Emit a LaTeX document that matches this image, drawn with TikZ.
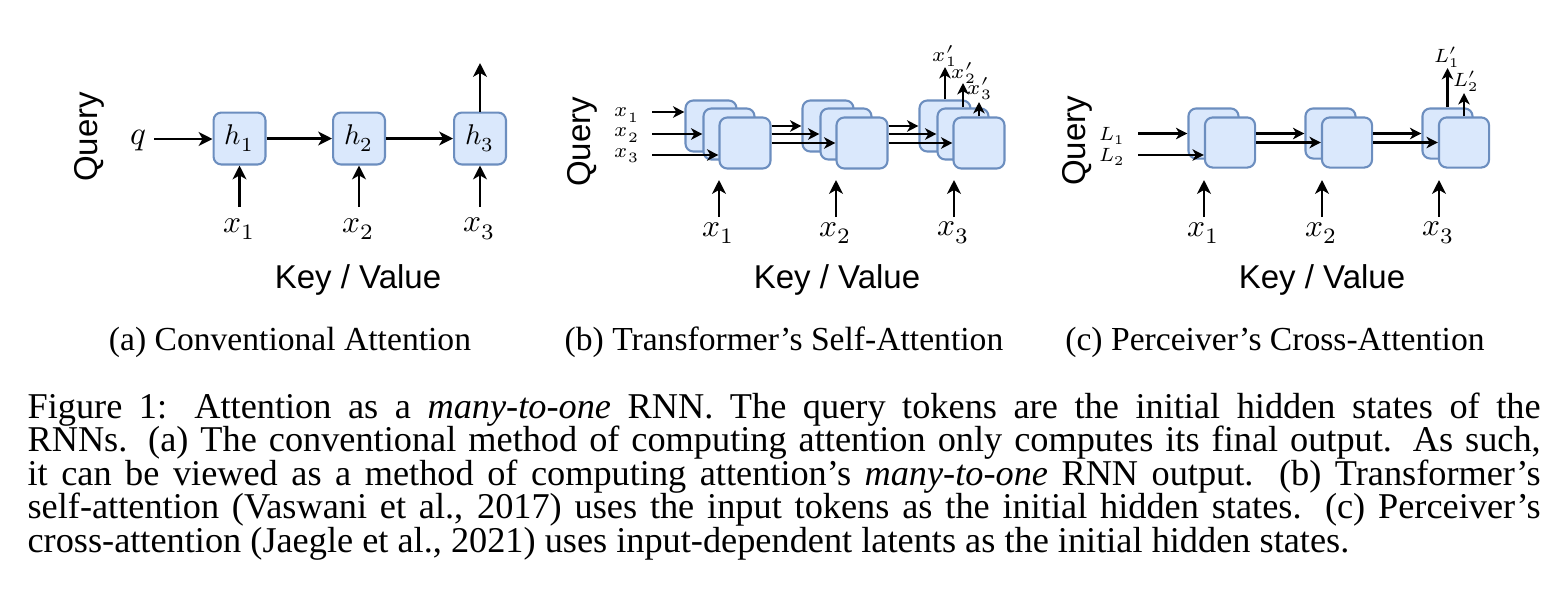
\documentclass[tikz,border=0pt]{standalone}
\usepackage{fontspec}
\usepackage{unicode-math}
\setmainfont{Liberation Serif}
\setsansfont{Liberation Sans}
\setmathfont{Latin Modern Math}
\usetikzlibrary{arrows.meta}
\definecolor{boxfill}{HTML}{DAE8FC}
\definecolor{boxdraw}{HTML}{6C8EBF}
\begin{document}
\begin{tikzpicture}[x=0.33333pt,y=-0.33333pt,
  cella/.style={draw=boxdraw, fill=boxfill, line width=0.7pt, rounded corners=2.6pt, minimum size=17.3pt, inner sep=0pt, font=\fontsize{9.5}{11}\selectfont},
  cellb/.style={draw=boxdraw, fill=boxfill, line width=0.7pt, rounded corners=2.6pt, minimum size=17pt, inner sep=0pt},
  cellc/.style={cellb, minimum size=16.7pt},
  arr/.style={line width=0.8pt, -{Stealth[length=4.6pt,width=4.6pt,inset=1.3pt]}},
  arrs/.style={line width=0.75pt, -{Stealth[length=3.8pt,width=3.8pt,inset=1.1pt]}},
  sanslab/.style={font=\sffamily\fontsize{11}{13}\selectfont, inner sep=0pt},
  qlab/.style={sanslab, rotate=90},
  mathl/.style={font=\fontsize{10.5}{12}\selectfont, inner sep=0pt},
  maths/.style={font=\fontsize{6.8}{8}\selectfont, inner sep=0pt},
  mathc/.style={font=\fontsize{6.4}{8}\selectfont, inner sep=0pt},
  subcap/.style={font=\fontsize{11.2}{13}\selectfont, inner sep=0pt, anchor=base},
]
\useasboundingbox (0,0) rectangle (1554,604);

% ---------------- (a) ----------------
\node[qlab] (qa) at (89,137) {Query};
\node[font=\fontsize{11}{12}\selectfont, inner sep=0pt] (q) at (138,140) {$q$};
\node[cella] (h1) at (239.5,138.5) {$h_1$};
\node[cella] (h2) at (359,138.5) {$h_2$};
\node[cella] (h3) at (480,138.5) {$h_3$};
\coordinate (qs) at (154,139);
\draw[arr] (qs) -- (qs -| h1.west);
\draw[arr] (h1) -- (h2);
\draw[arr] (h2) -- (h3);
\coordinate (ho) at (480,63);
\draw[arr] (h3.north) -- (ho);
\foreach \i/\x in {1/239.5,2/359,3/480}{
  \coordinate (as\i) at (\x,207);
  \node[mathl] (ax\i) at (\x,229) {$x_\i$};
}
\draw[arr] (as1) -- (h1.south);
\draw[arr] (as2) -- (h2.south);
\draw[arr] (as3) -- (h3.south);
\node[sanslab, anchor=base] (kva) at (358,288) {Key / Value};
\node[subcap] (capa) at (290,350) {(a) Conventional Attention};

% ---------------- (b) ----------------
\node[qlab] (qb) at (582,142) {Query};
\foreach \g/\dx in {1/0,2/117,3/234}{
  \node[cellb] (b\g1) at (711+\dx,126) {};
  \node[cellb] (b\g2) at (729+\dx,134) {};
  \node[cellb] (b\g3) at (745+\dx,143) {};
}
\node[maths] (bi1) at (627,115) {$x_1$};
\node[maths] (bi2) at (627,135) {$x_2$};
\node[maths] (bi3) at (627,156) {$x_3$};
\coordinate (bs1) at (652,112);
\coordinate (bs2) at (652,134);
\coordinate (bs3) at (652,155);
\draw[arrs] (bs1) -- (bs1 -| b11.west);
\draw[arrs] (bs2) -- (bs2 -| b12.west);
\draw[arrs] (bs3) -- (bs3 -| b13.west);
\draw[arrs] (b13.east |- b21.west) -- (b21.west);
\draw[arrs] (b13.east |- b22.west) -- (b22.west);
\draw[arrs] (b13.east) -- (b23.west);
\draw[arrs] (b23.east |- b31.west) -- (b31.west);
\draw[arrs] (b23.east |- b32.west) -- (b32.west);
\draw[arrs] (b23.east) -- (b33.west);
\coordinate (bo1) at (945,67);
\coordinate (bo2) at (963,83);
\coordinate (bo3) at (979,102);
\draw[arrs] (b31.north) -- (bo1);
\draw[arrs] (b32.north) -- (bo2);
\draw[arrs] (b33.north) -- (bo3);
\node[maths] (bl1) at (945,56) {$x'_1$};
\node[maths] (bl2) at (964,73) {$x'_2$};
\node[maths] (bl3) at (980,89) {$x'_3$};
\foreach \i/\x in {1/719,2/836,3/954}{
  \coordinate (bk\i) at (\x,217);
  \coordinate (bt\i) at (\x,180);
  \draw[arr] (bk\i) -- (bt\i);
  \node[mathl] (bx\i) at (\x,233) {$x_\i$};
}
\node[sanslab, anchor=base] (kvb) at (837,288) {Key / Value};
\node[subcap] (capb) at (784,350) {(b) Transformer’s Self-Attention};

% ---------------- (c) ----------------
\node[qlab] (qc) at (1077,141) {Query};
\foreach \g/\dx in {1/0,2/117,3/234}{
  \node[cellc] (c\g1) at (1213.5+\dx,133.5) {};
  \node[cellc] (c\g2) at (1230+\dx,142.5) {};
}
\node[mathc] (ci1) at (1112,136) {$L_1$};
\node[mathc] (ci2) at (1112,157) {$L_2$};
\coordinate (cs1) at (1138,133.5);
\coordinate (cs2) at (1138,155);
\draw[arrs] (cs1) -- (c11.west);
\draw[arrs] (cs2) -- (cs2 -| c12.west);
\draw[arrs] (c12.east |- c21.west) -- (c21.west);
\draw[arrs] (c12.east) -- (c22.west);
\draw[arrs] (c22.east |- c31.west) -- (c31.west);
\draw[arrs] (c22.east) -- (c32.west);
\coordinate (co1) at (1447.5,68);
\coordinate (co2) at (1464,93);
\draw[arrs] (c31.north) -- (co1);
\draw[arrs] (c32.north) -- (co2);
\node[mathc] (cl1) at (1447,57) {$L'_1$};
\node[mathc] (cl2) at (1466,81) {$L'_2$};
\foreach \i/\x in {1/1204,2/1322,3/1439}{
  \coordinate (ck\i) at (\x,217);
  \coordinate (ct\i) at (\x,180);
  \draw[arr] (ck\i) -- (ct\i);
  \node[mathl] (cx\i) at (\x,233) {$x_\i$};
}
\node[sanslab, anchor=base] (kvc) at (1322,288) {Key / Value};
\node[subcap] (capc) at (1275,350) {(c) Perceiver’s Cross-Attention};

% ---------------- caption ----------------
\node[anchor=north west, inner sep=0pt, text width=504.33pt, align=justify,
      font=\fontsize{12.1}{11.17}\selectfont] (cap) at (27,392)
{\hyphenpenalty=10000 Figure 1: Attention as a \emph{many-to-one} RNN. The query tokens are the initial hidden states of the\linebreak
RNNs. (a) The conventional method of computing attention only computes its final output. As such,\linebreak
it can be viewed as a method of computing attention’s \emph{many-to-one} RNN output. (b) Transformer’s\linebreak
self-attention (Vaswani et al., 2017) uses the input tokens as the initial hidden states. (c) Perceiver’s\linebreak
cross-attention (Jaegle et al., 2021) uses input-dependent latents as the initial hidden states.};
\end{tikzpicture}
\end{document}
